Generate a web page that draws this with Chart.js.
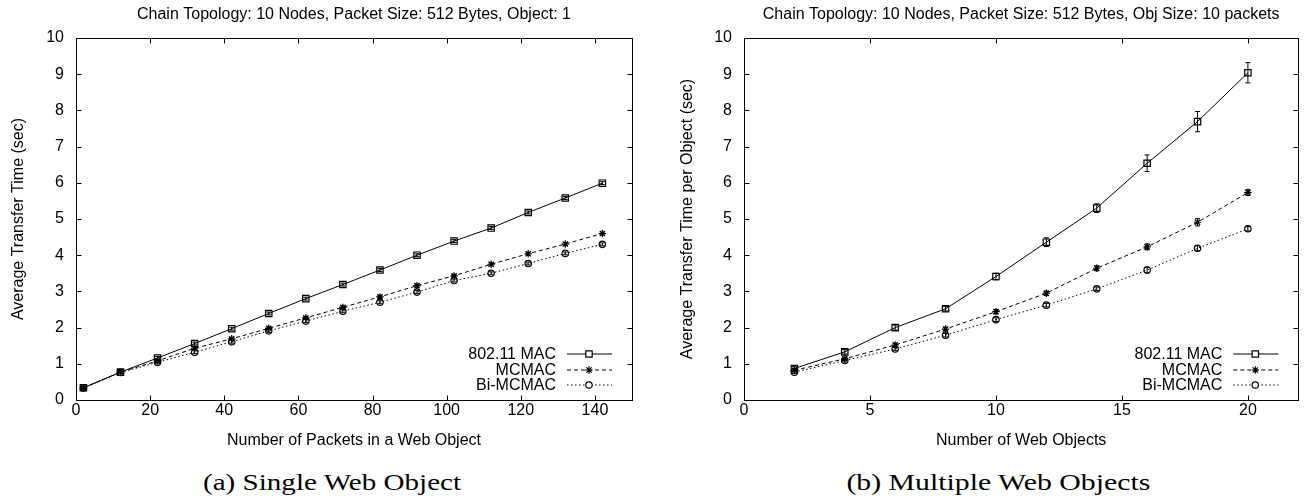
<!DOCTYPE html>
<html><head><meta charset="utf-8">
<script src="https://cdn.jsdelivr.net/npm/chart.js@4.4.1/dist/chart.umd.min.js"></script>
<style>
html,body{margin:0;padding:0;background:#fff;width:1304px;height:503px;overflow:hidden;}
.box{position:absolute;top:0;height:460px;}
#boxA{left:0;width:652px}
#boxB{left:652px;width:652px}
.cap{position:absolute;top:469px;font-family:"Liberation Serif","DejaVu Serif",serif;font-size:23px;color:#000;white-space:nowrap;line-height:28px}
</style></head><body>
<div class="box" id="boxA"><canvas id="cA" width="652" height="460"></canvas></div>
<div class="box" id="boxB"><canvas id="cB" width="652" height="460"></canvas></div>
<div class="cap" id="capA" data-cx="332" data-w="258">(a) Single Web Object</div>
<div class="cap" id="capB" data-cx="998" data-w="304">(b) Multiple Web Objects</div>
<script>
// ---------- data ----------
const seriesNames = ['802.11 MAC', 'MCMAC', 'Bi-MCMAC'];

const packetsX = [2,12,22,32,42,52,62,72,82,92,102,112,122,132,142];
const singleMac   = [0.34,0.77,1.16,1.56,1.97,2.39,2.80,3.19,3.59,4.00,4.39,4.75,5.18,5.58,5.99];
const singleMcmac = [0.33,0.77,1.08,1.43,1.69,1.98,2.27,2.56,2.85,3.16,3.43,3.75,4.04,4.31,4.60];
const singleBi    = [0.33,0.76,1.04,1.32,1.61,1.91,2.18,2.45,2.70,2.98,3.30,3.50,3.77,4.05,4.30];
const singleMacErr   = [0.03,0.03,0.04,0.04,0.04,0.04,0.04,0.04,0.04,0.04,0.04,0.04,0.04,0.04,0.04];
const singleMcmacErr = [0.03,0.03,0.04,0.04,0.04,0.04,0.04,0.04,0.04,0.04,0.04,0.04,0.04,0.04,0.04];
const singleBiErr    = [0.03,0.03,0.04,0.04,0.04,0.04,0.04,0.04,0.04,0.04,0.04,0.04,0.04,0.04,0.04];

const objectsX = [2,4,6,8,10,12,14,16,18,20];
const multiMac   = [0.87,1.33,2.00,2.52,3.41,4.36,5.30,6.54,7.69,9.04];
const multiMcmac = [0.82,1.14,1.52,1.96,2.44,2.95,3.64,4.23,4.91,5.73];
const multiBi    = [0.77,1.09,1.41,1.79,2.22,2.62,3.07,3.59,4.19,4.73];
const multiMacErr   = [0.05,0.06,0.07,0.06,0.09,0.12,0.12,0.23,0.28,0.28];
const multiMcmacErr = [0.04,0.04,0.05,0.05,0.06,0.06,0.07,0.08,0.10,0.08];
const multiBiErr    = [0.04,0.04,0.04,0.05,0.05,0.05,0.05,0.08,0.07,0.06];

const yTicksMax = 10;
const titleA = 'Chain Topology: 10 Nodes, Packet Size: 512 Bytes, Object: 1';
const titleB = 'Chain Topology: 10 Nodes, Packet Size: 512 Bytes, Obj Size: 10 packets';

// ---------- styling ----------
const FONT = '"Liberation Sans", Arial, sans-serif';
Chart.defaults.color = '#000';
Chart.defaults.font.family = FONT;

const styles = [
  {pointStyle:'rect', radius:4.5, dash:[]},
  {pointStyle:'star', radius:3.7, dash:[4,3]},
  {pointStyle:'circle', radius:3.2, dash:[1.5,2.5]}
];

function makeDatasets(xs, ys, errs) {
  return ys.map((arr, k) => ({
    label: seriesNames[k],
    data: xs.map((x, i) => ({x: x, y: arr[i]})),
    errors: errs[k],
    borderColor: '#000',
    borderWidth: 1,
    borderDash: styles[k].dash,
    pointStyle: styles[k].pointStyle,
    pointRadius: styles[k].radius,
    pointBorderColor: '#000',
    pointBackgroundColor: 'rgba(255,255,255,0)',
    pointBorderWidth: 1.2,
    fill: false,
    tension: 0
  }));
}

const gnuPlugin = {
  id: 'gnu',
  afterDatasetsDraw(chart) {
    const {ctx, scales:{x, y}} = chart;
    ctx.save();
    ctx.strokeStyle = '#000';
    ctx.lineWidth = 1;
    ctx.setLineDash([]);
    chart.data.datasets.forEach(ds => {
      ds.data.forEach((p, i) => {
        const e = ds.errors[i];
        const px = x.getPixelForValue(p.x);
        const y1 = y.getPixelForValue(p.y + e), y2 = y.getPixelForValue(p.y - e);
        ctx.beginPath();
        ctx.moveTo(px, y1); ctx.lineTo(px, y2);
        ctx.moveTo(px - 2.5, y1); ctx.lineTo(px + 2.5, y1);
        ctx.moveTo(px - 2.5, y2); ctx.lineTo(px + 2.5, y2);
        ctx.stroke();
      });
    });
    ctx.restore();
  },
  afterDraw(chart) {
    const {ctx, chartArea:a, scales:{x, y}} = chart;
    ctx.save();
    ctx.strokeStyle = '#000';
    ctx.lineWidth = 1;
    ctx.setLineDash([]);
    const L = Math.round(a.left) + 0.5, R = Math.round(a.right) + 0.5;
    const T = Math.round(a.top) + 0.5, B = Math.round(a.bottom) + 0.5;
    ctx.strokeRect(L, T, R - L, B - T);
    const tl = 5;
    ctx.beginPath();
    x.ticks.forEach(t => {
      const px = Math.round(x.getPixelForValue(t.value)) + 0.5;
      ctx.moveTo(px, B); ctx.lineTo(px, B - tl);
      ctx.moveTo(px, T); ctx.lineTo(px, T + tl);
    });
    y.ticks.forEach(t => {
      const py = Math.round(y.getPixelForValue(t.value)) + 0.5;
      ctx.moveTo(L, py); ctx.lineTo(L + tl, py);
      ctx.moveTo(R, py); ctx.lineTo(R - tl, py);
    });
    ctx.stroke();
    // gnuplot-style key, bottom right
    const rowsY = [46, 30, 15];
    ctx.font = '16px ' + FONT;
    ctx.textAlign = 'right';
    ctx.textBaseline = 'middle';
    chart.data.datasets.forEach((ds, k) => {
      const yy = a.bottom - rowsY[k];
      ctx.fillStyle = '#000';
      ctx.fillText(ds.label, a.right - 76, yy + 1);
      ctx.setLineDash(ds.borderDash);
      ctx.beginPath();
      ctx.moveTo(a.right - 65, yy); ctx.lineTo(a.right - 20, yy);
      ctx.stroke();
      ctx.setLineDash([]);
      ctx.lineWidth = ds.pointBorderWidth;
      ctx.fillStyle = '#fff';
      Chart.helpers.drawPoint(ctx, {pointStyle: ds.pointStyle, radius: ds.pointRadius, rotation: 0, borderWidth: ds.pointBorderWidth}, a.right - 43, yy);
      ctx.lineWidth = 1;
    });
    ctx.restore();
  }
};

function makeChart(id, title, xs, ys, errs, xMax, xStep, xTitle, yTitle, yWidth, yTitlePad, rightPad) {
  new Chart(document.getElementById(id), {
    type: 'line',
    data: {datasets: makeDatasets(xs, ys, errs)},
    plugins: [gnuPlugin],
    options: {
      responsive: false,
      animation: false,
      devicePixelRatio: 1,
      layout: {padding: {left: 0, right: rightPad, top: 0, bottom: 0}},
      plugins: {
        legend: {display: false},
        tooltip: {enabled: false},
        title: {display: true, text: title, fullSize: false, color: '#000',
                font: {size: 16, weight: 'normal', family: FONT, lineHeight: 1.2},
                padding: {top: 5, bottom: 13.8}}
      },
      scales: {
        x: {
          type: 'linear', min: 0, max: xMax,
          grid: {display: false, drawTicks: false},
          border: {display: false},
          ticks: {stepSize: xStep, includeBounds: false, padding: 1, font: {size: 16}, color: '#000', maxRotation: 0},
          title: {display: true, text: xTitle, font: {size: 16}, color: '#000', padding: {top: 0, bottom: 9.4}},
          afterFit(s) { s.height = 60; }
        },
        y: {
          type: 'linear', min: 0, max: yTicksMax,
          grid: {display: false, drawTicks: false},
          border: {display: false},
          ticks: {stepSize: 1, padding: 12, font: {size: 16}, color: '#000'},
          title: {display: true, text: yTitle, font: {size: 16}, color: '#000', padding: {top: yTitlePad, bottom: 0}},
          afterFit(s) { s.width = yWidth; }
        }
      }
    }
  });
}

makeChart('cA', titleA, packetsX, [singleMac, singleMcmac, singleBi], [singleMacErr, singleMcmacErr, singleBiErr],
  150, 20, 'Number of Packets in a Web Object', 'Average Transfer Time (sec)', 76, 9, 20);
makeChart('cB', titleB, objectsX, [multiMac, multiMcmac, multiBi], [multiMacErr, multiMcmacErr, multiBiErr],
  22, 5, 'Number of Web Objects', 'Average Transfer Time per Object (sec)', 92, 26.4, 4);

// captions: centre under each panel, stretched to the reference width
['capA', 'capB'].forEach(id => {
  const el = document.getElementById(id);
  const w = el.getBoundingClientRect().width;
  const sx = parseFloat(el.dataset.w) / w;
  el.style.left = (parseFloat(el.dataset.cx) - w / 2) + 'px';
  el.style.transformOrigin = '50% 50%';
  el.style.transform = 'scaleX(' + sx.toFixed(3) + ')';
});
</script>
</body></html>
